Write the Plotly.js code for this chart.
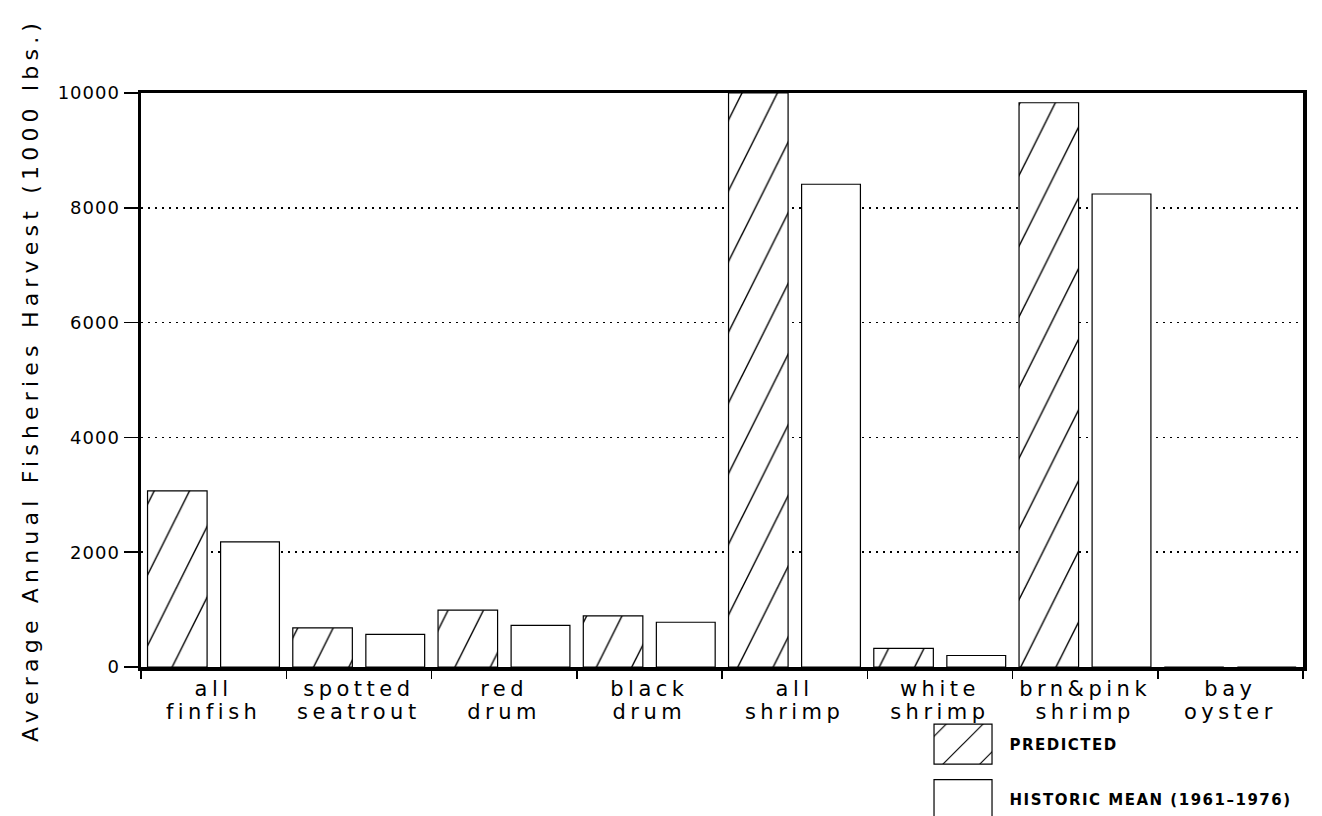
<!DOCTYPE html>
<html><head><meta charset="utf-8">
<script src="https://cdn.plot.ly/plotly-3.0.1.min.js"></script>
<style>
html,body{margin:0;padding:0;background:#fff;}
#chart{width:1322px;height:816px;}
.xtick text{letter-spacing:4.5px;}
.ytick text{letter-spacing:1px;}
.ytitle{letter-spacing:5.2px;}
.legend .legendtext{letter-spacing:1.5px;}
</style></head>
<body><div id="chart"></div>
<script>
const categories = ['all<br>finfish','spotted<br>seatrout','red<br>drum','black<br>drum','all<br>shrimp','white<br>shrimp','brn&pink<br>shrimp','bay<br>oyster'];
const predicted = [3070, 680, 990, 890, 10000, 325, 9830, 0];
const historic = [2180, 570, 725, 780, 8410, 200, 8240, 0];
const seriesNames = ['PREDICTED', 'HISTORIC MEAN (1961–1976)'];
const yTickVals = [0, 2000, 4000, 6000, 8000, 10000];
const yTickText = ['0', '2000', '4000', '6000', '8000', '10000'];
const yTitle = 'Average Annual Fisheries Harvest (1000 lbs.)';

const data = [
  {type:'bar', name:seriesNames[0], x:categories, y:predicted, width:0.41, offset:-0.455,
   legendgroup:'p',
   marker:{color:'#fff', line:{color:'#000', width:1.2},
     pattern:{shape:'/', size:50, solidity:0.045, fgcolor:'#000', bgcolor:'#fff'}}},
  {type:'bar', name:seriesNames[1], x:categories, y:historic, width:0.405, offset:0.048,
   legendgroup:'h',
   marker:{color:'#fff', line:{color:'#000', width:1.2}}}
];

const layout = {
  width:1322, height:816,
  margin:{l:141, r:19, t:93, b:149, pad:0, autoexpand:false},
  paper_bgcolor:'#fff', plot_bgcolor:'#fff',
  font:{family:'DejaVu Sans, sans-serif', color:'#000'},
  barmode:'overlay',
  showlegend:true,
  legend:{x:0.6674, xanchor:'left', y:-0.106, yanchor:'top', bgcolor:'rgba(0,0,0,0)',
    font:{size:15, weight:'bold'}, itemwidth:83, tracegroupgap:33, traceorder:'grouped'},
  xaxis:{type:'category', tickson:'boundaries', ticks:'outside', ticklen:8, tickwidth:1.5,
    tickcolor:'#000', showline:true, linewidth:3.5, linecolor:'#000', mirror:true, tickangle:0,
    tickfont:{size:21}, showgrid:false, fixedrange:true},
  yaxis:{range:[0,10000], tickmode:'array', tickvals:yTickVals, ticktext:yTickText,
    ticks:'outside', ticklen:14, tickwidth:1.5, tickcolor:'#000',
    showline:true, linewidth:3.5, linecolor:'#000', mirror:true,
    showgrid:true, gridcolor:'#000', griddash:'2px,5px', gridwidth:1.5, zeroline:false,
    tickfont:{size:18},
    title:{text:yTitle, font:{size:22}, standoff:14}, fixedrange:true}
};

Plotly.newPlot('chart', data, layout, {staticPlot:true}).then(gd => {
  gd.querySelectorAll('.legend .legendpoints path').forEach(p => p.setAttribute('d','M29,20H-29V-20H29Z'));
  gd.querySelectorAll('.legend [clip-path]').forEach(el => el.removeAttribute('clip-path'));
  gd.querySelectorAll('defs pattern').forEach(pt => {
    if(/legend/i.test(pt.id)) pt.setAttribute('patternTransform','scale(2.6)');
    else pt.setAttribute('patternTransform','scale(0.5,1)');
  });
  gd.querySelectorAll('.xtick text tspan.line').forEach(t => {
    if(t.getAttribute('dy') === '1.3em') t.setAttribute('dy','1.1em');
  });
});
</script>
</body></html>
